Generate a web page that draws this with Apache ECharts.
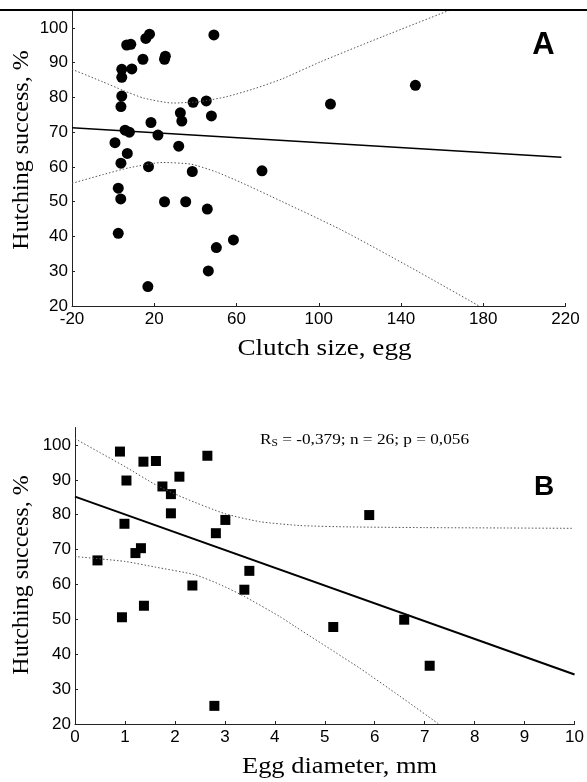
<!DOCTYPE html>
<html>
<head>
<meta charset="utf-8">
<script src="https://cdn.jsdelivr.net/npm/echarts@6/dist/echarts.min.js"></script>
<style>
  html, body { margin: 0; padding: 0; background: #fff; }
  #chart { width: 587px; height: 782px; }
</style>
</head>
<body>
<div id="chart"></div>
<script>
// Panel A: clutch size (eggs) vs hatching success (%)
const clutchSize = [49, 17.7, 15.9, 6.6, 8.6, 14.5, 25.4, 25, 4.2, 9.1, 4.2, 4.2, 3.8, 38.9, 45.3, 32.7, 33.4, 47.8, 18.4, 5.8, 7.9, 21.8, 0.9, 31.9, 6.9, 3.8, 17.2, 38.5, 72.4, 2.5, 3.7, 25, 35.3, 45.8, 2.5, 58.5, 50.2, 46.3, 16.9, 105.7, 147];
const successA = [98, 98.2, 97, 95.1, 95.3, 91, 91.9, 91, 88.1, 88.2, 85.8, 80.4, 77.4, 78.6, 79, 75.6, 73.2, 74.7, 72.8, 70.6, 70, 69.2, 67, 66, 63.9, 61.1, 60.1, 58.7, 58.9, 53.9, 50.8, 50, 50, 47.9, 40.9, 39, 36.8, 30.1, 25.6, 78.1, 83.5];
// regression line and 95% confidence band for panel A
const fitAX = [-20, 218];
const fitAY = [71.3, 62.8];
const upperAX = [-20, -5, 5, 15, 29, 42, 55, 68, 82, 101, 131, 164];
const upperAY = [88.1, 84.5, 82.0, 79.8, 78.4, 78.8, 80.2, 82.4, 85.3, 90.3, 97.5, 105.2];
const lowerAX = [-20, -5, 8, 24, 38, 50, 62, 82, 111, 145, 178];
const lowerAY = [55.3, 57.8, 59.8, 61.3, 60.8, 58.6, 55.6, 50.1, 41.9, 31, 20];

// Panel B: egg diameter (mm) vs hatching success (%)
const eggDiam = [0.9, 1.37, 1.62, 2.65, 1.03, 2.09, 1.75, 1.92, 1.92, 3.01, 0.99, 2.82, 1.32, 1.21, 0.45, 3.49, 2.35, 3.39, 1.38, 0.94, 5.17, 2.79, 5.89, 6.59, 7.1];
const successB = [98.1, 95.2, 95.4, 96.9, 89.8, 90.9, 88.1, 85.9, 80.4, 78.5, 77.4, 74.7, 70.4, 69.0, 66.9, 63.9, 59.7, 58.5, 53.9, 50.6, 47.8, 25.2, 79.9, 49.9, 36.7];
const fitBX = [0, 10];
const fitBY = [85.2, 34.2];
const upperBX = [0, 0.5, 1, 1.65, 2.2, 3, 3.7, 4.5, 5.5, 7, 8.5, 9.95];
const upperBY = [101.8, 97.8, 93.8, 88.3, 84.7, 80.3, 78, 76.9, 76.5, 76.3, 76.2, 76.1];
const lowerBX = [0, 1, 1.6, 2.4, 2.9, 3.4, 4.1, 4.4, 5.7, 6.5, 7.3];
const lowerBY = [68, 66.6, 65, 62.8, 60, 56.5, 50.8, 48, 36, 28, 19.8];

// axis settings
const yTicksMin = 20, yTicksMax = 105, yStep = 10;
const xA = { min: -20, max: 220, step: 40 };
const xB = { min: 0, max: 10, step: 1 };

const statText = ' = -0,379; n = 26; p = 0,056';

const zip = (xs, ys) => xs.map((x, i) => [x, ys[i]]);

const axisColor = '#222';
const tickFont = { fontFamily: 'Liberation Sans, Arial, sans-serif', fontSize: 17, color: '#000' };
const serif = 'Liberation Serif, Times New Roman, serif';

function valueAxis(gridIndex, min, max, interval, isY) {
  return {
    type: 'value', gridIndex, min, max, interval,
    axisLine: { show: true, onZero: false, lineStyle: { color: axisColor, width: 1 } },
    axisTick: { show: true, inside: true, length: 3, lineStyle: { color: axisColor } },
    splitLine: { show: false },
    axisLabel: Object.assign({ margin: isY ? 4 : 5, showMaxLabel: !isY }, tickFont)
  };
}

const bandStyle = { color: '#555', width: 1, type: [1.5, 2] };
const markStyle = { color: '#000', opacity: 1 };

const chart = echarts.init(document.getElementById('chart'), null, { renderer: 'canvas' });
chart.setOption({
  animation: false,
  backgroundColor: '#fff',
  grid: [
    { left: 72, top: 10.6, width: 493.5, height: 295.4 },
    { left: 75, top: 427.5, width: 500, height: 296.5 }
  ],
  xAxis: [
    valueAxis(0, xA.min, xA.max, xA.step, false),
    valueAxis(1, xB.min, xB.max, xB.step, false)
  ],
  yAxis: [
    valueAxis(0, yTicksMin, yTicksMax, yStep, true),
    valueAxis(1, yTicksMin, yTicksMax, yStep, true)
  ],
  series: [
    { type: 'line', xAxisIndex: 0, yAxisIndex: 0, data: zip(upperAX, upperAY), showSymbol: false, smooth: 0.2, lineStyle: bandStyle },
    { type: 'line', xAxisIndex: 0, yAxisIndex: 0, data: zip(lowerAX, lowerAY), showSymbol: false, smooth: 0.2, lineStyle: bandStyle },
    { type: 'line', xAxisIndex: 0, yAxisIndex: 0, data: zip(fitAX, fitAY), showSymbol: false, lineStyle: { color: '#000', width: 1.5 } },
    { type: 'scatter', xAxisIndex: 0, yAxisIndex: 0, data: zip(clutchSize, successA), symbol: 'circle', symbolSize: 11, itemStyle: markStyle },

    { type: 'line', xAxisIndex: 1, yAxisIndex: 1, data: zip(upperBX, upperBY), showSymbol: false, smooth: 0.2, lineStyle: bandStyle },
    { type: 'line', xAxisIndex: 1, yAxisIndex: 1, data: zip(lowerBX, lowerBY), showSymbol: false, smooth: 0.2, lineStyle: bandStyle },
    { type: 'line', xAxisIndex: 1, yAxisIndex: 1, data: zip(fitBX, fitBY), showSymbol: false, lineStyle: { color: '#000', width: 2 } },
    { type: 'scatter', xAxisIndex: 1, yAxisIndex: 1, data: zip(eggDiam, successB), symbol: 'rect', symbolSize: 10, itemStyle: markStyle }
  ],
  graphic: [
    // rule across the top of the figure
    { type: 'line', shape: { x1: 0, y1: 10, x2: 587, y2: 10 }, style: { stroke: '#000', lineWidth: 2 }, z: 10 },
    // axis titles
    { type: 'text', x: 22, y: 150, rotation: Math.PI / 2,
      style: { text: 'Hutching success, %', font: '24px ' + serif, fill: '#000', textAlign: 'center', textVerticalAlign: 'middle' } },
    { type: 'text', x: 22, y: 575, rotation: Math.PI / 2,
      style: { text: 'Hutching success, %', font: '24px ' + serif, fill: '#000', textAlign: 'center', textVerticalAlign: 'middle' } },
    { type: 'text', x: 324.5, y: 349, scaleX: 1.18,
      style: { text: 'Clutch size, egg', font: '23px ' + serif, fill: '#000', textAlign: 'center', textVerticalAlign: 'middle' } },
    { type: 'text', x: 339.5, y: 767, scaleX: 1.15,
      style: { text: 'Egg diameter, mm', font: '23px ' + serif, fill: '#000', textAlign: 'center', textVerticalAlign: 'middle' } },
    // panel letters
    { type: 'text', x: 543.5, y: 45,
      style: { text: 'A', font: 'bold 31px Liberation Sans, Arial, sans-serif', fill: '#000', textAlign: 'center', textVerticalAlign: 'middle' } },
    { type: 'text', x: 544, y: 487,
      style: { text: 'B', font: 'bold 28px Liberation Sans, Arial, sans-serif', fill: '#000', textAlign: 'center', textVerticalAlign: 'middle' } },
    // Spearman statistics
    { type: 'text', x: 260, y: 440, scaleX: 1.15,
      style: {
        text: '{r|R}{s|S}{r|' + statText + '}',
        textVerticalAlign: 'middle',
        rich: {
          r: { fontFamily: serif, fontSize: 15, fill: '#000', color: '#000' },
          s: { fontFamily: serif, fontSize: 10, color: '#000', padding: [6, 0, 0, 0] }
        }
      } }
  ]
});
</script>
</body>
</html>
